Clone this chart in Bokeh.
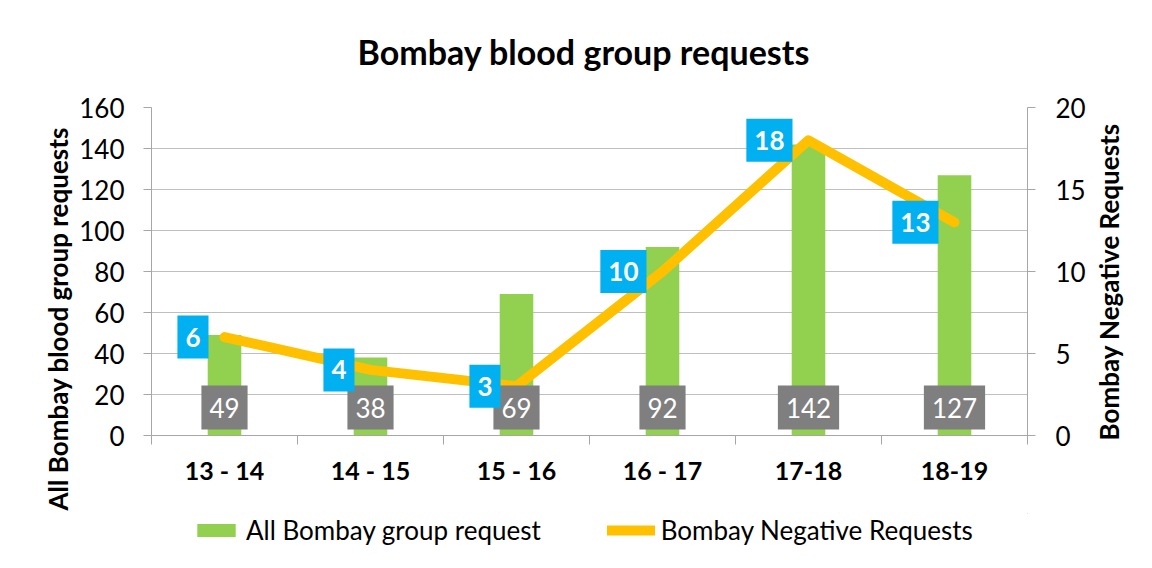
from bokeh.plotting import figure
from bokeh.layouts import column, row
from bokeh.models import (Range1d, LinearAxis, FixedTicker, ColumnDataSource,
                          Legend, LegendItem, Title)
from bokeh.embed import file_html
from bokeh.resources import INLINE
from bokeh.core.properties import value

categories = ["13 - 14", "14 - 15", "15 - 16", "16 - 17", "17-18", "18-19"]
all_requests = [49, 38, 69, 92, 142, 127]
negative_requests = [6, 4, 3, 10, 18, 13]
left_ticks = [0, 20, 40, 60, 80, 100, 120, 140, 160]
right_ticks = [0, 5, 10, 15, 20]

FONT = "Lato"
GRID = "#BFBFBF"
AXIS = "#A6A6A6"
GREEN = "#92D050"
ORANGE = "#FFC000"


def strip(**kw):
    f = figure(output_backend="svg", toolbar_location=None,
               x_range=Range1d(-2, -1), y_range=Range1d(-2, -1),
               x_axis_type=None, y_axis_type=None, outline_line_color=None, **kw)
    f.xgrid.grid_line_color = None
    f.ygrid.grid_line_color = None
    return f


xs = [i + 0.5 for i in range(len(categories))]
src = ColumnDataSource(dict(
    x=xs, cat=categories, total=all_requests, neg=negative_requests,
    total_lbl=[str(v) for v in all_requests],
    neg_lbl=[str(v) for v in negative_requests],
    base=[0] * len(categories),
))

# ---- title strip ----
header = strip(frame_width=876, frame_height=1, min_border_left=151,
               min_border_right=125, min_border_top=72, min_border_bottom=0)
header.title.text = "Bombay blood group requests"
header.title.text_font = FONT
header.title.text_font_size = "34px"
header.title.text_font_style = "bold"
header.title.align = "left"
header.title.offset = 206
header.title.text_color = "#000000"
header.title.standoff = 2

# ---- main chart ----
p = figure(frame_width=876, frame_height=328, output_backend="svg", toolbar_location=None,
           x_range=Range1d(0, len(categories)), y_range=Range1d(0, 160),
           min_border_left=151, min_border_right=60, min_border_top=34,
           min_border_bottom=78, outline_line_color=None)
p.extra_y_ranges = {"neg": Range1d(0, 20)}

xa = p.xaxis[0]
xa.ticker = FixedTicker(ticks=xs, minor_ticks=list(range(len(categories) + 1)))
xa.major_label_overrides = {x: c for x, c in zip(xs, categories)}
xa.major_tick_line_color = None
xa.major_tick_out = 10
xa.major_tick_in = 0
xa.minor_tick_out = 9
xa.minor_tick_in = 0
xa.minor_tick_line_color = AXIS
xa.axis_line_color = AXIS
xa.major_label_text_font = FONT
xa.major_label_text_font_size = "25px"
xa.major_label_text_font_style = "bold"
xa.major_label_text_color = "#000000"
xa.major_label_standoff = 9
p.xgrid.grid_line_color = None

ya = p.yaxis[0]
ya.ticker = FixedTicker(ticks=left_ticks)
ya.minor_tick_line_color = None
ya.major_tick_out = 8
ya.major_tick_in = 0
ya.major_tick_line_color = AXIS
ya.axis_line_color = AXIS
ya.major_label_text_font = FONT
ya.major_label_text_font_size = "26px"
ya.major_label_text_color = "#000000"
ya.major_label_standoff = 19
p.ygrid.ticker = FixedTicker(ticks=left_ticks)
p.ygrid.grid_line_color = GRID
p.ygrid.grid_line_width = 1

p.add_layout(Title(text="All Bombay blood group requests", align="left", offset=-75,
                   text_font=FONT, text_font_size="26px", text_font_style="bold",
                   text_color="#000000", standoff=6), "left")

ra = LinearAxis(y_range_name="neg", ticker=FixedTicker(ticks=right_ticks))
ra.minor_tick_line_color = None
ra.major_tick_out = 8
ra.major_tick_in = 0
ra.major_tick_line_color = AXIS
ra.axis_line_color = AXIS
ra.major_label_text_font = FONT
ra.major_label_text_font_size = "26px"
ra.major_label_text_color = "#000000"
ra.major_label_standoff = 20
p.add_layout(ra, "right")

bars = p.vbar(x="x", top="total", width=0.23, source=src,
              fill_color=GREEN, line_color=None)
line = p.line(x="x", y="neg", source=src, y_range_name="neg",
              line_color=ORANGE, line_width=10,
              line_cap="round", line_join="round")

p.text(x="x", y="base", text="total_lbl", source=src,
       text_align="center", text_baseline="bottom", y_offset=-6,
       text_color="white", text_font=value(FONT), text_font_size="26px",
       background_fill_color="#7F7F7F",
       padding=dict(left=8, right=8, top=12, bottom=12))

p.text(x="x", y="neg", text="neg_lbl", source=src, y_range_name="neg",
       text_align="right", text_baseline="middle", x_offset=-16,
       text_color="white", text_font=value(FONT), text_font_size="26px",
       text_font_style="bold",
       background_fill_color="#00B0F0",
       padding=dict(left=8, right=8, top=12, bottom=12))

# ---- right-hand axis title strip (reads bottom to top) ----
side = strip(frame_width=1, frame_height=328, min_border_left=36,
             min_border_right=28, min_border_top=34, min_border_bottom=78)
side.add_layout(Title(text="Bombay Negative Requests", align="left", offset=-5,
                      text_font=FONT, text_font_size="26px", text_font_style="bold",
                      text_color="#000000", standoff=0), "left")

# ---- legend strip ----
lg = strip(frame_width=876, frame_height=55, min_border_left=151,
           min_border_right=125, min_border_top=0, min_border_bottom=0)
lbar = lg.vbar(x="x", top="total", width=0.23, source=src, fill_color=GREEN, line_color=None)
lline = lg.line(x="x", y="neg", source=src, line_color=ORANGE, line_width=10,
                line_cap="round")

legend = Legend(items=[
    LegendItem(label="All Bombay group request", renderers=[lbar]),
    LegendItem(label="Bombay Negative Requests", renderers=[lline]),
], orientation="horizontal", location=(41, 22))
legend.label_text_font = FONT
legend.label_text_font_size = "26px"
legend.label_text_color = "#000000"
legend.glyph_width = 48
legend.glyph_height = 16
legend.label_standoff = 6
legend.spacing = 66
legend.border_line_color = None
legend.background_fill_alpha = 0
legend.margin = 0
legend.padding = 0
lg.add_layout(legend, "center")

layout = column(header, row(p, side, spacing=0), lg, spacing=0)
open("out.html", "w").write(file_html(layout, INLINE))
